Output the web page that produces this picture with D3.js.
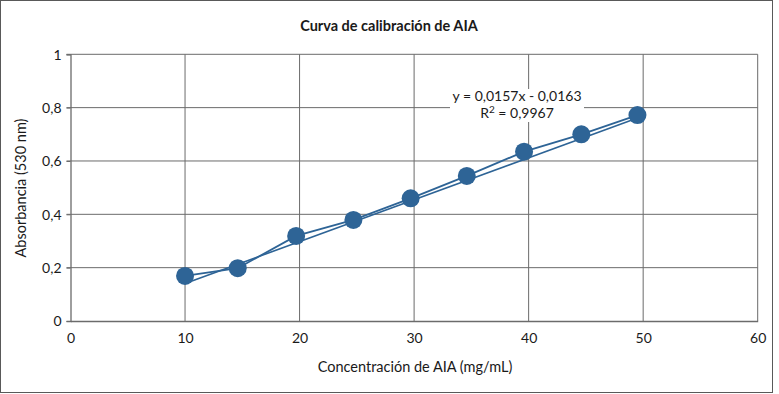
<!DOCTYPE html>
<html><head><meta charset="utf-8">
<script src="https://cdn.jsdelivr.net/npm/d3@7"></script>
<style>body{margin:0;background:#fff}svg{display:block}text{font-family:Lato,"Open Sans",sans-serif;fill:#1a1a1a}</style>
</head><body><svg id="c" width="779" height="394"></svg>
<script>
const concentracion = [10, 14.6, 19.7, 24.7, 29.7, 34.6, 39.6, 44.6, 49.5];
const absorbancia = [0.169, 0.198, 0.319, 0.379, 0.460, 0.544, 0.635, 0.700, 0.772];
const xTicks = [0, 10, 20, 30, 40, 50, 60];
const yTicks = [0, 0.2, 0.4, 0.6, 0.8, 1];
const slope = 0.0157, intercept = -0.0163;
const eqLabel = "y = 0,0157x - 0,0163";
const r2Label = "0,9967";

const svg = d3.select("#c");
const L = 70.5, R = 757.7, T = 54.3, B = 321;
const x = d3.scaleLinear().domain([0, 60]).range([L, R]);
const y = d3.scaleLinear().domain([0, 1]).range([B, T]);
const fmt = d => d3.format("~g")(d).replace(".", ",");
const grid = "#6b6b6b", blue = "#2e6496";

svg.append("rect").attr("x", 0.5).attr("y", 0.5).attr("width", 772).attr("height", 392)
  .attr("fill", "#fff").attr("stroke", "#595959").attr("stroke-width", 1);

// gridlines
svg.append("g").selectAll("line").data(xTicks.filter(d => d > 0)).join("line")
  .attr("x1", d => x(d)).attr("x2", d => x(d)).attr("y1", T).attr("y2", B)
  .attr("stroke", grid).attr("stroke-width", 1);
svg.append("g").selectAll("line").data(yTicks.filter(d => d > 0)).join("line")
  .attr("x1", L - 4).attr("x2", R).attr("y1", d => y(d)).attr("y2", d => y(d))
  .attr("stroke", grid).attr("stroke-width", 1);

// axes
const xAxis = svg.append("g").attr("transform", `translate(0,${B})`)
  .call(d3.axisBottom(x).tickValues(xTicks).tickSize(0).tickPadding(12).tickFormat(fmt));
const yAxis = svg.append("g").attr("transform", `translate(${L},0)`)
  .call(d3.axisLeft(y).tickValues(yTicks).tickSize(4).tickPadding(5).tickFormat(fmt));
[xAxis, yAxis].forEach(a => {
  a.select(".domain").attr("stroke", grid).attr("stroke-width", 1.3);
  a.selectAll(".tick line").attr("stroke", grid);
  a.selectAll("text").attr("font-size", 14).attr("fill", "#1a1a1a").attr("font-family", "Lato");
});
yAxis.selectAll(".tick text").attr("dy", "0.35em");

// trendline
const xs = d3.extent(concentracion);
svg.append("line")
  .attr("x1", x(xs[0])).attr("y1", y(slope * xs[0] + intercept))
  .attr("x2", x(xs[1])).attr("y2", y(slope * xs[1] + intercept))
  .attr("stroke", blue).attr("stroke-width", 1.6);

// data line
const pts = concentracion.map((c, i) => [c, absorbancia[i]]);
svg.append("path").datum(pts)
  .attr("d", d3.line().x(d => x(d[0])).y(d => y(d[1])))
  .attr("fill", "none").attr("stroke", blue).attr("stroke-width", 1.8);
svg.append("g").selectAll("circle").data(pts).join("circle")
  .attr("cx", d => x(d[0])).attr("cy", d => y(d[1])).attr("r", 9)
  .attr("fill", blue);

// equation label
svg.append("rect").attr("x", 450).attr("y", 89).attr("width", 134).attr("height", 33).attr("fill", "#fff");
svg.append("text").attr("x", 517).attr("y", 100.5).attr("text-anchor", "middle")
  .attr("font-size", 14).text(eqLabel);
const t2 = svg.append("text").attr("x", 517).attr("y", 118).attr("text-anchor", "middle").attr("font-size", 14);
t2.append("tspan").text("R");
t2.append("tspan").attr("font-size", 10).attr("dy", -5).text("2");
t2.append("tspan").attr("dy", 5).text(" = " + r2Label);

// titles
svg.append("text").attr("x", 389).attr("y", 31).attr("text-anchor", "middle")
  .attr("font-size", 14.5).attr("font-weight", "bold").text("Curva de calibración de AIA");
svg.append("text").attr("x", 415).attr("y", 372).attr("text-anchor", "middle")
  .attr("font-size", 14.5).text("Concentración de AIA (mg/mL)");
svg.append("text").attr("transform", "translate(26,188) rotate(-90)").attr("text-anchor", "middle")
  .attr("font-size", 14.5).text("Absorbancia (530 nm)");
</script></body></html>
